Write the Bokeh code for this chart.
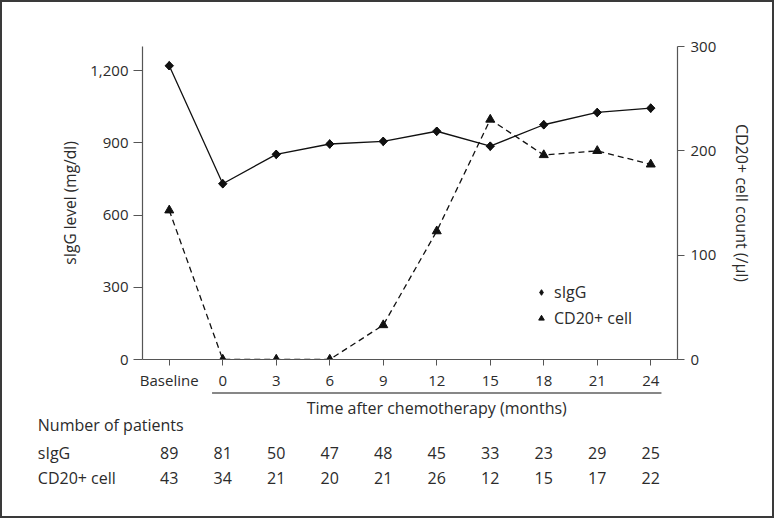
import math
from bokeh.plotting import figure
from bokeh.models import (Range1d, LinearAxis, FixedTicker, NumeralTickFormatter,
                          Legend, LegendItem)
from bokeh.embed import file_html
from bokeh.resources import INLINE
from bokeh.core.properties import value

# ---------------- data ----------------
categories = ["Baseline", "0", "3", "6", "9", "12", "15", "18", "21", "24"]
sigg_level = [1220, 730, 852, 895, 906, 948, 886, 975, 1026, 1044]
cd20_count = [143, 0, 0, 0, 33, 123, 230, 196, 200, 187]
n_sigg = [89, 81, 50, 47, 48, 45, 33, 23, 29, 25]
n_cd20 = [43, 34, 21, 20, 21, 26, 12, 15, 17, 22]
left_ticks = [0, 300, 600, 900, 1200]
right_ticks = [0, 100, 200, 300]
left_max = 1300
right_max = 300
row_labels = ["Number of patients", "sIgG", "CD20+ cell"]
x_title = "Time after chemotherapy (months)"

# ---------------- layout ----------------
W = 774
H1, H2 = 390, 128
L, R, T, B = 140, 99, 44, 33
FONT = "Open Sans"
FS = "16px"
AFS = "15.5px"
TFS = "15px"
TXT = "#2b2b2b"
AX = "#555555"
INK = "#111111"
FRAME = "2px solid #3a3a3a"

idx = list(range(len(categories)))
ppu = (W - L - R) / len(categories)      # px per category

p = figure(width=W, height=H1, x_range=Range1d(-0.5, len(categories) - 0.5),
           y_range=Range1d(0, left_max), output_backend="svg", toolbar_location=None,
           min_border_left=L, min_border_right=R, min_border_top=T, min_border_bottom=B,
           outline_line_color=None, background_fill_color="white", border_fill_color="white")
p.styles = {"border": FRAME, "border-bottom": "0"}
p.grid.visible = False
p.extra_y_ranges = {"cd": Range1d(0, right_max)}

# x axis
xa = p.xaxis[0]
xa.ticker = FixedTicker(ticks=idx)
xa.major_label_overrides = {i: c for i, c in enumerate(categories)}
xa.major_tick_in = 0
xa.major_tick_out = 6
xa.minor_tick_line_color = None
xa.major_label_standoff = 4

# left axis
ya = p.yaxis[0]
ya.ticker = FixedTicker(ticks=left_ticks)
ya.formatter = NumeralTickFormatter(format="0,0")
ya.axis_label = "sIgG level (mg/dl)"
ya.major_tick_in = 0
ya.major_tick_out = 9
ya.minor_tick_line_color = None
ya.major_label_standoff = 5
ya.axis_label_standoff = 6

# right axis
ra = LinearAxis(y_range_name="cd", ticker=FixedTicker(ticks=right_ticks),
                axis_label="CD20+ cell count (/µl)")
ra.major_tick_in = 0
ra.major_tick_out = 7
ra.minor_tick_line_color = None
ra.major_label_standoff = 6
ra.axis_label_standoff = 12
p.add_layout(ra, "right")

for a in [xa, ya, ra]:
    a.axis_line_color = AX
    a.major_tick_line_color = AX
    a.axis_line_width = 1.2
    a.major_label_text_font = FONT
    a.major_label_text_font_size = TFS
    a.major_label_text_color = TXT
    a.axis_label_text_font = FONT
    a.axis_label_text_font_size = AFS
    a.axis_label_text_font_style = "normal"
    a.axis_label_text_color = TXT
ra.axis_label_text_font_size = FS

# series
p.line(idx, sigg_level, line_color=INK, line_width=1.3)
p.line(idx, cd20_count, y_range_name="cd", line_color=INK, line_width=1.3, line_dash="6 4")
p.scatter(idx, sigg_level, marker="square", angle=math.pi / 4, size=6,
          fill_color=INK, line_color=INK)
r2 = p.scatter(idx, cd20_count, y_range_name="cd", marker="triangle", size=9,
               fill_color=INK, line_color=INK)
# diamond drawn inside the rotated squares; gives the legend its diamond glyph
r1 = p.scatter(idx, sigg_level, marker="diamond", size=8.5, fill_color=INK, line_color=INK)

legend = Legend(items=[LegendItem(label="sIgG", renderers=[r1]),
                       LegendItem(label="CD20+ cell", renderers=[r2])],
                location=(392, 30), border_line_color=None, background_fill_alpha=0,
                padding=0, margin=0, spacing=4, glyph_width=14, glyph_height=20,
                label_height=20, label_standoff=6, label_text_font=FONT,
                label_text_font_size=FS, label_text_color=TXT)
p.add_layout(legend)

# ---------------- lower panel: axis title + patient-number table ----------------
xs = -0.5 - L / ppu
xe = (len(categories) - 0.5) + R / ppu
p2 = figure(width=W, height=H2, x_range=Range1d(xs, xe), y_range=Range1d(H2, 0),
            output_backend="svg", toolbar_location=None, min_border=0,
            min_border_left=0, min_border_right=0, min_border_top=0, min_border_bottom=0,
            x_axis_location=None, y_axis_location=None, outline_line_color=None,
            background_fill_color="white", border_fill_color="white")
p2.styles = {"border": FRAME, "border-top": "0"}
p2.grid.visible = False

first, last = 1, len(categories) - 1
line_y, title_y = 2.5, 17
row_y = [34, 62.3, 87]
label_x = xs + 35.3 / ppu

p2.segment(x0=[first - 0.2], y0=[line_y], x1=[last + 0.2], y1=[line_y],
           line_color=INK, line_width=1.2)
txt = dict(text_baseline="middle", text_font=value(FONT), text_font_size=FS, text_color=TXT)
p2.text(x=[(first + last) / 2], y=[title_y], text=[x_title], text_align="center", **txt)
p2.text(x=[label_x] * 3, y=row_y, text=row_labels, text_align="left", **txt)
p2.text(x=idx, y=[row_y[1]] * len(idx), text=[str(v) for v in n_sigg],
        text_align="center", **txt)
p2.text(x=idx, y=[row_y[2]] * len(idx), text=[str(v) for v in n_cd20],
        text_align="center", **txt)

open("out.html", "w").write(file_html([p, p2], INLINE))
